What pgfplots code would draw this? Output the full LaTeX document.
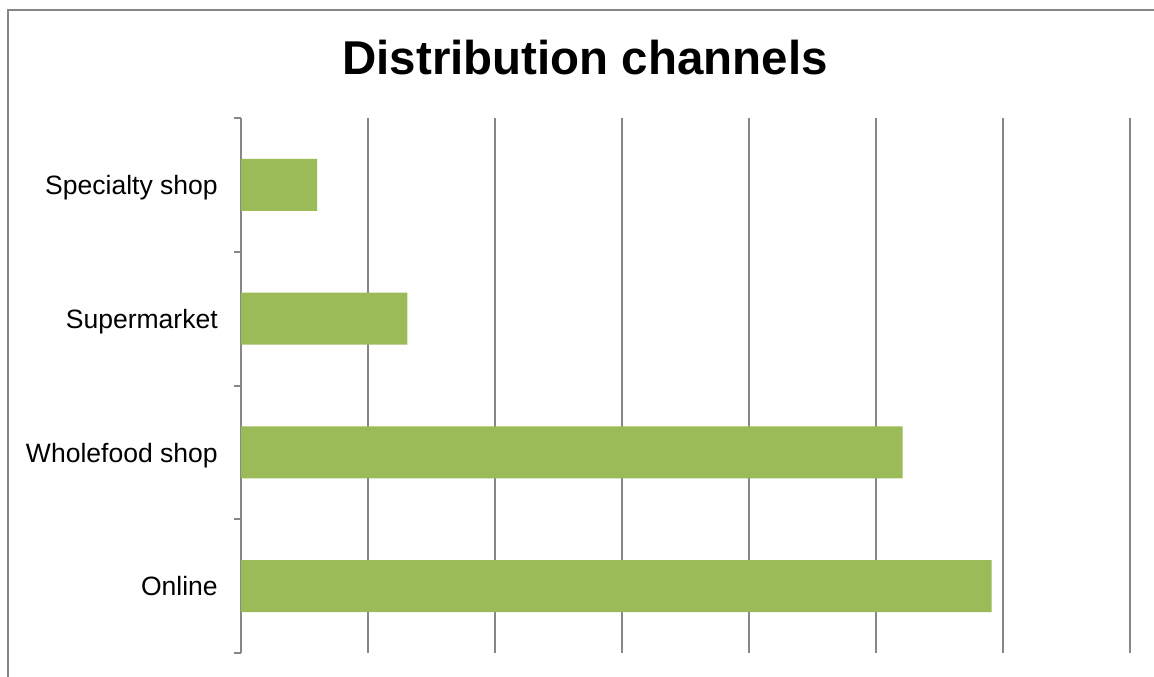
\documentclass[border=0pt]{standalone}
\usepackage{fontspec}
\setmainfont{Liberation Sans}
\usepackage{pgfplots}
\pgfplotsset{compat=1.18}
\definecolor{barg}{HTML}{9BBB59}
\definecolor{gridg}{HTML}{868686}
\begin{document}
\begin{tikzpicture}
\useasboundingbox (0pt,0pt) rectangle (865.5pt,-507.75pt);
\draw[gridg, line width=1.5pt] (6pt,-507.75pt) -- (6pt,-7.5pt) -- (865.5pt,-7.5pt);
\node[font=\fontsize{35.6}{40}\selectfont\bfseries, anchor=base, inner sep=0pt] at (438.75pt,-56.25pt) {Distribution channels};
\begin{axis}[
  at={(180.75pt,-489.75pt)}, anchor=south west,
  scale only axis, width=666.75pt, height=401.25pt,
  xmin=0, xmax=7, ymin=-0.5, ymax=3.5,
  enlargelimits=false,
  separate axis lines,
  x axis line style={draw=none},
  y axis line style={gridg, line width=1.5pt},
  xtick={0,1,...,7}, xticklabels={},
  xmajorgrids,
  major grid style={gridg, line width=1.5pt},
  ytick={0,1,2,3},
  yticklabels={Online, Wholefood shop, Supermarket, Specialty shop},
  minor ytick={-0.5,0.5,1.5,2.5,3.5},
  major tick length=0pt,
  minor tick length=5.25pt,
  tick align=outside,
  ytick pos=left,
  minor tick style={gridg, line width=1.5pt},
  yticklabel shift=17.25pt,
  yticklabel style={font=\fontsize{19.9}{24}\selectfont, anchor=east, inner sep=0pt, text height=0.72em, text depth=0pt, yshift=-3.75pt},
]
\addplot[xbar, fill=barg, draw=none, bar width=0.39] coordinates {(5.91,0) (5.21,1) (1.31,2) (0.6,3)};
\end{axis}
\end{tikzpicture}
\end{document}
